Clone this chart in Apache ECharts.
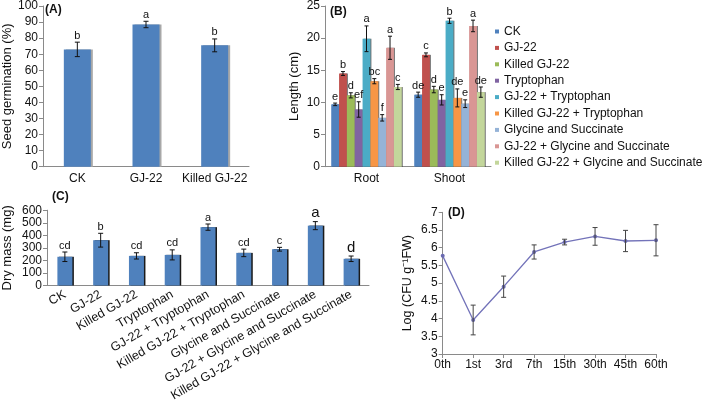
<!DOCTYPE html>
<html><head><meta charset="utf-8">
<script src="https://cdn.jsdelivr.net/npm/echarts@6/dist/echarts.min.js"></script>
<style>html,body{margin:0;padding:0;background:#fff}#c{width:709px;height:404px}</style>
</head><body><div id="c"></div>
<script>
// ---------- DATA ----------
// Panel A
const catA = ['CK', 'GJ-22', 'Killed GJ-22'];
const germA = [73, 88.5, 75.5];
const germErrA = [4.5, 2, 4];
const germLetA = ['b', 'a', 'b'];
// Panel B
const catB = ['Root', 'Shoot'];
const treatments = ['CK', 'GJ-22', 'Killed GJ-22', 'Tryptophan', 'GJ-22 + Tryptophan',
  'Killed GJ-22 + Tryptophan', 'Glycine and Succinate', 'GJ-22 + Glycine and Succinate',
  'Killed GJ-22 + Glycine and Succinate'];
const rootLen = [9.7, 14.5, 11.1, 8.9, 19.9, 13.3, 7.6, 18.5, 12.4];
const rootErr = [0.2, 0.3, 0.4, 1.2, 2.0, 0.4, 0.5, 1.8, 0.4];
const rootLet = ['e', 'b', 'd', 'ef', 'a', 'bc', 'f', 'a', 'c'];
const shootLen = [11.2, 17.4, 12.0, 10.4, 22.7, 10.7, 9.8, 21.9, 11.6];
const shootErr = [0.4, 0.3, 0.5, 0.8, 0.4, 1.4, 0.6, 0.9, 0.8];
const shootLet = ['de', 'c', 'd', 'e', 'b', 'de', 'e', 'a', 'de'];
// Panel C
const catC = treatments;
const dryMass = [229, 361, 236, 244, 465, 260, 289, 477, 213];
const dryErr = [38, 55, 25, 40, 25, 30, 15, 32, 22];
const dryLet = ['cd', 'b', 'cd', 'cd', 'a', 'cd', 'c', 'a', 'd'];
// Panel D
const days = ['0th', '1st', '3rd', '7th', '15th', '30th', '45th', '60th'];
const logCFU = [5.77, 3.96, 4.9, 5.88, 6.16, 6.32, 6.19, 6.21];
const logErr = [0, 0.42, 0.3, 0.2, 0.08, 0.25, 0.3, 0.44];

// ---------- STYLE ----------
const FONT = '"Liberation Sans", Arial, sans-serif';
const AX = '#8a8a8a';
const TXT = '#111';
const colorsB = ['#4F81BD', '#C0504D', '#9BBB59', '#8064A2', '#4BACC6', '#F79646', '#95B3D7', '#D99694', '#C3D69B'];
const cLetterFont = [11, 11, 11, 11, 11, 11, 11, 15, 15];

const chart = echarts.init(document.getElementById('c'));

function catAxis(grid, data, extra) {
  return Object.assign({
    type: 'category', gridIndex: grid, data: data,
    axisLine: { lineStyle: { color: AX } },
    axisTick: { lineStyle: { color: AX }, length: 4 },
    axisLabel: { color: TXT, fontFamily: FONT, fontSize: 12, margin: 6, interval: 0 },
    splitLine: { show: false }
  }, extra || {});
}
function valAxis(grid, min, max, interval, name, nameGap, fs) {
  return {
    type: 'value', gridIndex: grid, min: min, max: max, interval: interval,
    name: name, nameLocation: 'middle', nameGap: nameGap,
    nameTextStyle: { color: TXT, fontFamily: FONT, fontSize: fs || 13 },
    axisLine: { show: true, lineStyle: { color: AX } },
    axisTick: { show: true, lineStyle: { color: AX }, length: 4 },
    axisLabel: { color: TXT, fontFamily: FONT, fontSize: 12, margin: 5 },
    splitLine: { show: false }
  };
}
function errChildren(cx, yt, yb, cap, color) {
  return [
    { type: 'line', shape: { x1: cx, y1: yt, x2: cx, y2: yb }, style: { stroke: color, lineWidth: 1 } },
    { type: 'line', shape: { x1: cx - cap, y1: yt, x2: cx + cap, y2: yt }, style: { stroke: color, lineWidth: 1 } },
    { type: 'line', shape: { x1: cx - cap, y1: yb, x2: cx + cap, y2: yb }, style: { stroke: color, lineWidth: 1 } }
  ];
}
function errSeries(ax, vals, errs, letters, fonts, color) {
  return {
    type: 'custom', xAxisIndex: ax, yAxisIndex: ax, silent: true, z: 10,
    encode: { x: 0, y: 1 },
    data: vals.map((v, i) => [i, v, errs[i]]),
    renderItem(params, api) {
      const i = params.dataIndex;
      const x = api.value(0), v = api.value(1), e = api.value(2);
      const pt = api.coord([x, v + e]), pb = api.coord([x, v - e]);
      const ch = e > 0 ? errChildren(pt[0], pt[1], pb[1], 2.5, color || '#111') : [];
      if (letters) {
        ch.push({ type: 'text', style: { text: letters[i], x: pt[0], y: pt[1] - 1,
          align: 'center', verticalAlign: 'bottom', fill: TXT,
          font: (fonts ? fonts[i] : 11) + 'px ' + FONT } });
      }
      return { type: 'group', children: ch };
    }
  };
}
function errSeriesB(vals, errs, letters, k) {
  return {
    type: 'custom', xAxisIndex: 1, yAxisIndex: 1, silent: true, z: 10,
    encode: { x: 0, y: 1 },
    data: vals.map((v, ci) => [ci, v, errs[ci]]),
    renderItem(params, api) {
      const ci = params.dataIndex;
      const x = api.value(0), v = api.value(1), e = api.value(2);
      const pt = api.coord([x, v + e]), pb = api.coord([x, v - e]);
      const band = api.size([1, 0])[0];
      const gw = band * 0.85, bw = gw / 9;
      const cx = pt[0] - gw / 2 + bw * (k + 0.5);
      const ch = errChildren(cx, pt[1], pb[1], 2, '#111');
      ch.push({ type: 'text', style: { text: letters[ci], x: cx, y: pt[1] - 1,
        align: 'center', verticalAlign: 'bottom', fill: TXT, font: '11px ' + FONT } });
      return { type: 'group', children: ch };
    }
  };
}

const seriesB = treatments.map((t, k) => ({
  type: 'bar', name: t, xAxisIndex: 1, yAxisIndex: 1,
  data: [rootLen[k], shootLen[k]],
  barGap: '0%', barCategoryGap: '15%',
  itemStyle: { color: colorsB[k], shadowColor: 'rgba(0,0,0,0.55)', shadowOffsetX: 1, shadowBlur: 0 }
}));
const errB = treatments.map((t, k) => errSeriesB([rootLen[k], shootLen[k]], [rootErr[k], shootErr[k]], [rootLet[k], shootLet[k]], k));

const option = {
  animation: false,
  backgroundColor: '#fff',
  textStyle: { fontFamily: FONT },
  grid: [
    { left: 40.7, top: 4.7, width: 208.3, height: 162 },
    { left: 325, top: 2.7, width: 166, height: 164 },
    { left: 47, top: 210.2, width: 322, height: 85 },
    { left: 442.7, top: 212.3, width: 213.3, height: 141.7 }
  ],
  legend: {
    orient: 'vertical', left: 490, top: 20.5, itemWidth: 4, itemHeight: 4, itemGap: 4.4,
    icon: 'rect', data: treatments, selectedMode: false,
    textStyle: { color: TXT, fontFamily: FONT, fontSize: 12, lineHeight: 12 }
  },
  xAxis: [
    catAxis(0, catA),
    catAxis(1, catB),
    catAxis(2, catC, { axisLabel: { color: TXT, fontFamily: FONT, fontSize: 12.5, margin: 8, rotate: 30, interval: 0 } }),
    catAxis(3, days, { boundaryGap: false, axisLabel: { color: TXT, fontFamily: FONT, fontSize: 12, margin: 5, interval: 0 } })
  ],
  yAxis: [
    valAxis(0, 0, 100, 10, 'Seed germination (%)', 29),
    valAxis(1, 0, 25, 5, 'Length (cm)', 24),
    valAxis(2, 0, 600, 100, 'Dry mass (mg)', 33),
    valAxis(3, 3, 7, 0.5, 'Log (CFU g\u207B\u00B9FW)', 29, 12.5)
  ],
  graphic: [
    { type: 'text', left: 45, top: 4, style: { text: '(A)', font: 'bold 12px ' + FONT, fill: TXT } },
    { type: 'text', left: 330, top: 6, style: { text: '(B)', font: 'bold 12px ' + FONT, fill: TXT } },
    { type: 'text', left: 52, top: 191, style: { text: '(C)', font: 'bold 12px ' + FONT, fill: TXT } },
    { type: 'text', left: 448, top: 207, style: { text: '(D)', font: 'bold 12px ' + FONT, fill: TXT } }
  ],
  series: [
    { type: 'bar', name: 'germ', xAxisIndex: 0, yAxisIndex: 0, data: germA, barWidth: 27,
      itemStyle: { color: '#4F81BD', shadowColor: '#a8a8a8', shadowOffsetX: 2, shadowBlur: 0 } },
    errSeries(0, germA, germErrA, germLetA),
    ...seriesB,
    ...errB,
    { type: 'bar', name: 'dry', xAxisIndex: 2, yAxisIndex: 2, data: dryMass, barWidth: 15,
      itemStyle: { color: '#4F81BD', shadowColor: '#1a1a1a', shadowOffsetX: 1.5, shadowBlur: 0 } },
    errSeries(2, dryMass, dryErr, dryLet, cLetterFont),
    { type: 'line', name: 'cfu', xAxisIndex: 3, yAxisIndex: 3, data: logCFU,
      symbol: 'circle', symbolSize: 4, lineStyle: { color: '#7373B9', width: 1.3 },
      itemStyle: { color: '#6A6AB0' } },
    errSeries(3, logCFU, logErr, null, null, '#444')
  ]
};
chart.setOption(option);
</script></body></html>
